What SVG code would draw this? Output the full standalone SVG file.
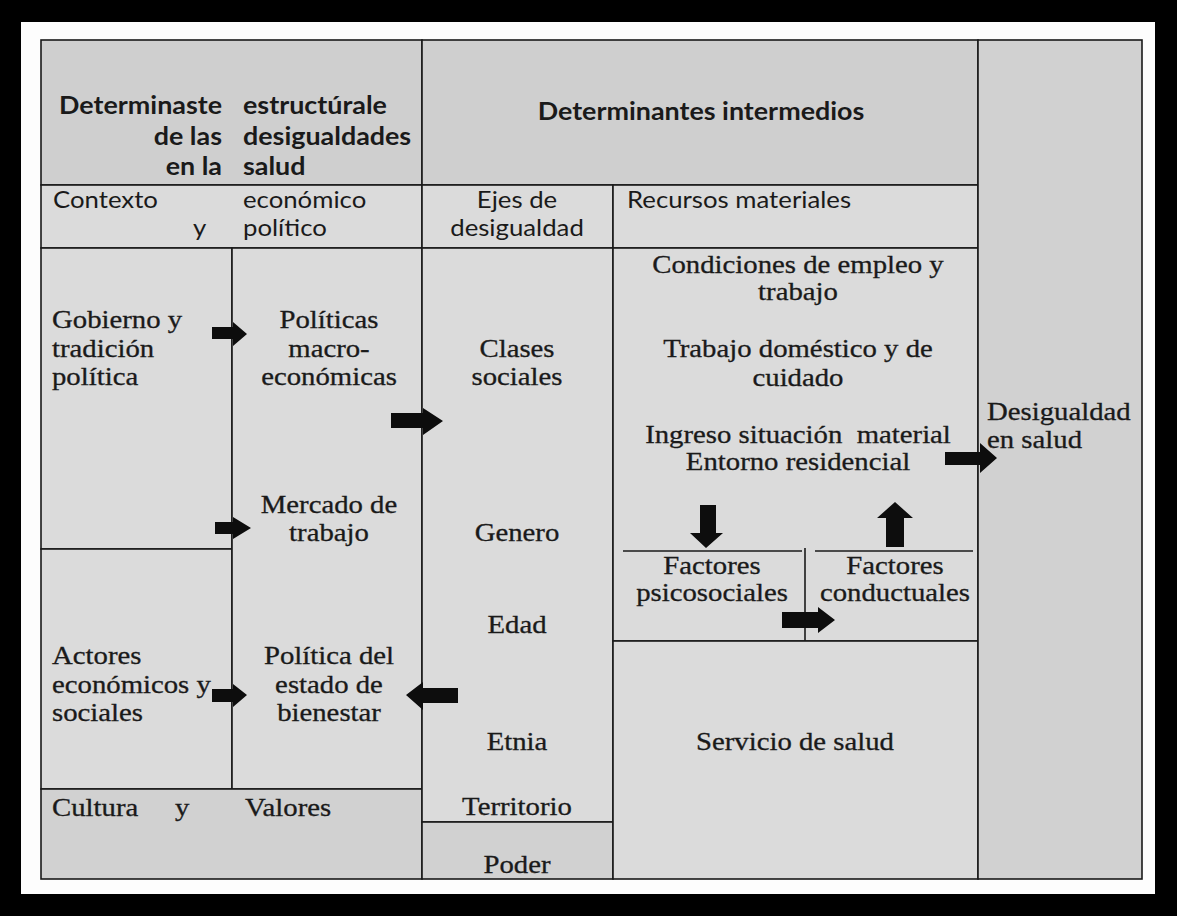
<svg xmlns="http://www.w3.org/2000/svg" width="1177" height="916" viewBox="0 0 1177 916">
<defs>
<style>
.cell{stroke:#1a1a1a;stroke-width:1.6}
.body{fill:#dbdbdb}
.hdr{fill:#cfcfcf}
.dark{fill:#d1d1d1}
.line{stroke:#1a1a1a;stroke-width:1.6;fill:none}
.arrow{fill:#0d0d0d}
.s{font-family:"Liberation Serif","Times New Roman",serif;font-size:25px;fill:#1a1a1a;stroke:#1a1a1a;stroke-width:0.3}
.b{font-family:Lato,"Liberation Sans",sans-serif;font-size:24px;font-weight:bold;fill:#1a1a1a}
.r{font-family:Lato,"Liberation Sans",sans-serif;font-size:23px;fill:#1a1a1a}
.m{text-anchor:middle}
.e{text-anchor:end}
</style>
</defs>
<rect x="0" y="0" width="1177" height="916" fill="#000000"/>
<rect x="21" y="22" width="1134" height="872" fill="#fdfdfd"/>

<g id="hdr-estructurales">
<rect class="cell hdr" x="41" y="40" width="381" height="145"/>
<text class="b e" transform="translate(222,114) scale(1.12,1)">Determinaste</text>
<text class="b" transform="translate(243,114) scale(1.12,1)">estructúrale</text>
<text class="b e" transform="translate(222,145) scale(1.12,1)">de las</text>
<text class="b" transform="translate(243,145) scale(1.12,1)">desigualdades</text>
<text class="b e" transform="translate(222,175) scale(1.12,1)">en la</text>
<text class="b" transform="translate(243,175) scale(1.12,1)">salud</text>
</g>
<g id="hdr-intermedios">
<rect class="cell hdr" x="422" y="40" width="556" height="145"/>
<text class="b m" transform="translate(701,120) scale(1.12,1)">Determinantes intermedios</text>
</g>
<g id="contexto">
<rect class="cell body" x="41" y="185" width="381" height="63"/>
<text class="r" transform="translate(53,208) scale(1.12,1)">Contexto</text>
<text class="r" transform="translate(193,236) scale(1.12,1)">y</text>
<text class="r" transform="translate(243,208) scale(1.12,1)">económico</text>
<text class="r" transform="translate(243,236) scale(1.12,1)">político</text>
</g>
<g id="ejes-hdr">
<rect class="cell body" x="422" y="185" width="191" height="63"/>
<text class="r m" transform="translate(517,208) scale(1.12,1)">Ejes de</text>
<text class="r m" transform="translate(517,236) scale(1.12,1)">desigualdad</text>
</g>
<g id="recursos-hdr">
<rect class="cell body" x="613" y="185" width="365" height="63"/>
<text class="r" transform="translate(627,208) scale(1.12,1)">Recursos materiales</text>
</g>
<g id="gobierno">
<rect class="cell body" x="41" y="248" width="191" height="301"/>
<text class="s" transform="translate(52,328) scale(1.15,1)">Gobierno y</text>
<text class="s" transform="translate(52,357) scale(1.15,1)">tradición</text>
<text class="s" transform="translate(52,385) scale(1.15,1)">política</text>
</g>
<g id="actores">
<rect class="cell body" x="41" y="549" width="191" height="240"/>
<text class="s" transform="translate(52,664) scale(1.15,1)">Actores</text>
<text class="s" transform="translate(52,693) scale(1.15,1)">económicos y</text>
<text class="s" transform="translate(52,721) scale(1.15,1)">sociales</text>
</g>
<g id="politicas">
<rect class="cell body" x="232" y="248" width="190" height="541"/>
<text class="s m" transform="translate(329,328) scale(1.15,1)">Políticas</text>
<text class="s m" transform="translate(329,357) scale(1.15,1)">macro-</text>
<text class="s m" transform="translate(329,385) scale(1.15,1)">económicas</text>
<text class="s m" transform="translate(329,513) scale(1.15,1)">Mercado de</text>
<text class="s m" transform="translate(329,541) scale(1.15,1)">trabajo</text>
<text class="s m" transform="translate(329,664) scale(1.15,1)">Política del</text>
<text class="s m" transform="translate(329,693) scale(1.15,1)">estado de</text>
<text class="s m" transform="translate(329,721) scale(1.15,1)">bienestar</text>
</g>
<g id="cultura">
<rect class="cell dark" x="41" y="789" width="381" height="90"/>
<text class="s" transform="translate(52,816) scale(1.15,1)">Cultura</text>
<text class="s" transform="translate(175,816) scale(1.15,1)">y</text>
<text class="s" transform="translate(245,816) scale(1.15,1)">Valores</text>
</g>
<g id="ejes">
<rect class="cell body" x="422" y="248" width="191" height="574"/>
<text class="s m" transform="translate(517,357) scale(1.15,1)">Clases</text>
<text class="s m" transform="translate(517,385) scale(1.15,1)">sociales</text>
<text class="s m" transform="translate(517,541) scale(1.15,1)">Genero</text>
<text class="s m" transform="translate(517,633) scale(1.15,1)">Edad</text>
<text class="s m" transform="translate(517,750) scale(1.15,1)">Etnia</text>
<text class="s m" transform="translate(517,815) scale(1.15,1)">Territorio</text>
</g>
<g id="poder">
<rect class="cell dark" x="422" y="822" width="191" height="57"/>
<text class="s m" transform="translate(517,873) scale(1.15,1)">Poder</text>
</g>
<g id="recursos">
<rect class="cell body" x="613" y="248" width="365" height="393"/>
<text class="s m" transform="translate(798,273) scale(1.15,1)">Condiciones de empleo y</text>
<text class="s m" transform="translate(798,300) scale(1.15,1)">trabajo</text>
<text class="s m" transform="translate(798,357) scale(1.15,1)">Trabajo doméstico y de</text>
<text class="s m" transform="translate(798,386) scale(1.15,1)">cuidado</text>
<text class="s m" transform="translate(798,443) scale(1.15,1)">Ingreso situación&#160; material</text>
<text class="s m" transform="translate(798,470) scale(1.15,1)">Entorno residencial</text>
</g>
<g id="factores-psicosociales">
<line class="line" x1="623" y1="551" x2="802" y2="551"/>
<text class="s m" transform="translate(712,574) scale(1.15,1)">Factores</text>
<text class="s m" transform="translate(712,601) scale(1.15,1)">psicosociales</text>
</g>
<g id="factores-conductuales">
<line class="line" x1="815" y1="551" x2="973" y2="551"/>
<line class="line" x1="805" y1="548" x2="805" y2="641"/>
<text class="s m" transform="translate(895,574) scale(1.15,1)">Factores</text>
<text class="s m" transform="translate(895,601) scale(1.15,1)">conductuales</text>
</g>
<g id="servicio">
<rect class="cell body" x="613" y="641" width="365" height="238"/>
<text class="s m" transform="translate(795,750) scale(1.15,1)">Servicio de salud</text>
</g>
<g id="desigualdad">
<rect class="cell dark" x="978" y="40" width="164" height="839"/>
<text class="s" transform="translate(987,420) scale(1.15,1)">Desigualdad</text>
<text class="s" transform="translate(987,448) scale(1.15,1)">en salud</text>
</g>

<g id="connectors">
<polygon class="arrow" points="212,327 233,327 233,322 247,334 233,346 233,339 212,339"/>
<polygon class="arrow" points="215,522 233,522 233,517 251,528 233,539 233,534 215,534"/>
<polygon class="arrow" points="212,689 233,689 233,684 247,695 233,707 233,702 212,702"/>
<polygon class="arrow" points="391,413 423,413 423,408 443,421 423,435 423,428 391,428"/>
<polygon class="arrow" points="458,688 423,688 423,682 406,695 423,710 423,703 458,703"/>
<polygon class="arrow" points="945,452 980,452 980,443 997,458 980,473 980,465 945,465"/>
<polygon class="arrow" points="700,505 716,505 716,533 723,533 706,548 690,533 700,533"/>
<polygon class="arrow" points="886,547 904,547 904,518 913,518 895,502 877,518 886,518"/>
<polygon class="arrow" points="782,612 818,612 818,607 835,620 818,633 818,628 782,628"/>
</g>
</svg>
